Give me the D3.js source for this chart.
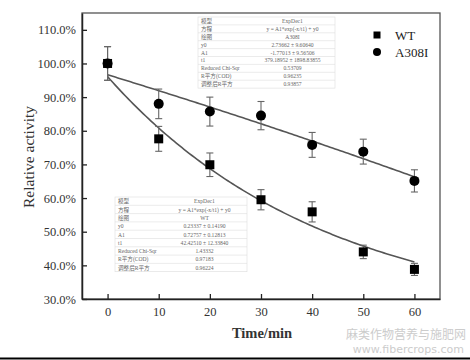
<!DOCTYPE html>
<html><head><meta charset="utf-8">
<script src="https://cdn.jsdelivr.net/npm/d3@7"></script>
<style>body{margin:0;background:#fff}svg{display:block}</style>
</head><body>
<svg id="c" width="470" height="360"></svg>
<script>
const times = [0, 10, 20, 30, 40, 50, 60];
const seriesNames = ["WT", "A308I"];
const wtValues = [1.000, 0.776, 0.699, 0.595, 0.559, 0.440, 0.388];
const wtErrors = [0.050, 0.037, 0.035, 0.030, 0.030, 0.020, 0.018];
const a308Values = [1.000, 0.880, 0.857, 0.845, 0.758, 0.738, 0.651];
const a308Errors = [0.050, 0.044, 0.043, 0.042, 0.037, 0.037, 0.033];
// fitted ExpDec1 parameters: y = A1*exp(-x/t1) + y0
const wtFit = {y0: 0.23337, A1: 0.72757, t1: 42.42510};
const a308Fit = {y0: 2.73662, A1: -1.77013, t1: -379.18952};
const yTicks = [0.3, 0.4, 0.5, 0.6, 0.7, 0.8, 0.9, 1.0, 1.1];
const xTicks = [0, 10, 20, 30, 40, 50, 60];
const tableLabels = ["模型", "方程", "绘图", "y0", "A1", "t1", "Reduced Chi-Sqr", "R平方(COD)", "调整后R平方"];
const a308Table = ["ExpDec1", "y = A1*exp(-x/t1) + y0", "A308I", "2.73662 ± 9.60640", "-1.77013 ± 9.56506", "379.18952 ± 1898.83855", "0.53709", "0.96235", "0.93857"];
const wtTable = ["ExpDec1", "y = A1*exp(-x/t1) + y0", "WT", "0.23337 ± 0.14190", "0.72757 ± 0.12813", "42.42510 ± 12.33840", "1.43332", "0.97183", "0.96224"];

const svg = d3.select("#c");
const x = d3.scaleLinear().domain([-5, 65]).range([82, 440]);
const y = d3.scaleLinear().domain([0.3, 1.15]).range([299, 13]);
const serif = "'Liberation Serif','Times New Roman',serif";
const tableFont = "'Liberation Serif','Noto Sans CJK SC',serif";

// frame
svg.append("rect").attr("x", 82).attr("y", 13).attr("width", 358).attr("height", 286)
  .attr("fill", "none").attr("stroke", "#555").attr("stroke-width", 1.3);

// axes
const yAxis = d3.axisLeft(y).tickValues(yTicks).tickFormat(d3.format(".1%")).tickSizeInner(-5).tickSizeOuter(0).tickPadding(6);
const gy = svg.append("g").attr("transform", "translate(82,0)").call(yAxis);
gy.select(".domain").attr("stroke", "#222").attr("stroke-width", 1.5);
gy.selectAll(".tick line").attr("stroke", "#222").attr("stroke-width", 1.3);
gy.selectAll("text").attr("font-family", serif).attr("font-size", 12.5).attr("fill", "#333");

const xAxis = d3.axisBottom(x).tickValues(xTicks).tickFormat(d3.format("d")).tickSizeInner(-5).tickSizeOuter(0).tickPadding(8);
const gx = svg.append("g").attr("transform", "translate(0,299)").call(xAxis);
gx.select(".domain").attr("stroke", "#222").attr("stroke-width", 1.5);
gx.selectAll(".tick line").attr("stroke", "#222").attr("stroke-width", 1.3);
gx.selectAll("text").attr("font-family", serif).attr("font-size", 12.5).attr("fill", "#333");

svg.append("text").attr("x", 262).attr("y", 338).attr("text-anchor", "middle")
  .attr("font-family", serif).attr("font-size", 14.5).attr("font-weight", "bold").attr("fill", "#333").text("Time/min");
svg.append("text").attr("transform", "translate(34,157) rotate(-90)").attr("text-anchor", "middle")
  .attr("font-family", serif).attr("font-size", 15.5).attr("fill", "#333").text("Relative activity");

// fit curves
const line = d3.line().x(d => x(d[0])).y(d => y(d[1]));
function fitPts(p) {
  return d3.range(0, 60.01, 0.5).map(t => [t, p.A1 * Math.exp(-t / p.t1) + p.y0]);
}
[wtFit, a308Fit].forEach(p => {
  svg.append("path").attr("d", line(fitPts(p))).attr("fill", "none").attr("stroke", "#555").attr("stroke-width", 1.6);
});

// error bars
function errBars(vals, errs) {
  const g = svg.append("g").attr("stroke", "#666").attr("stroke-width", 1.1);
  times.forEach((t, i) => {
    const cx = x(t), top = y(vals[i] + errs[i]), bot = y(vals[i] - errs[i]);
    g.append("line").attr("x1", cx).attr("x2", cx).attr("y1", top).attr("y2", bot);
    g.append("line").attr("x1", cx - 3.5).attr("x2", cx + 3.5).attr("y1", top).attr("y2", top);
    g.append("line").attr("x1", cx - 3.5).attr("x2", cx + 3.5).attr("y1", bot).attr("y2", bot);
  });
}
errBars(a308Values, a308Errors);
errBars(wtValues, wtErrors);

// markers
svg.append("g").selectAll("circle").data(times).join("circle")
  .attr("cx", d => x(d)).attr("cy", (d, i) => y(a308Values[i])).attr("r", 5).attr("fill", "#000");
svg.append("g").selectAll("rect").data(times).join("rect")
  .attr("x", d => x(d) - 4.5).attr("y", (d, i) => y(wtValues[i]) - 4.5).attr("width", 9).attr("height", 9).attr("fill", "#000");

// legend
svg.append("rect").attr("x", 373.5).attr("y", 31.5).attr("width", 7).attr("height", 7).attr("fill", "#000");
svg.append("circle").attr("cx", 377).attr("cy", 52).attr("r", 4).attr("fill", "#000");
svg.append("text").attr("x", 395).attr("y", 40).attr("font-family", serif).attr("font-size", 13).attr("fill", "#222").text(seriesNames[0]);
svg.append("text").attr("x", 395).attr("y", 57).attr("font-family", serif).attr("font-size", 13).attr("fill", "#222").text(seriesNames[1]);

// tables
function table(x0, y0, w, splitX, rowH, vals) {
  const g = svg.append("g");
  const h = rowH * tableLabels.length;
  g.append("rect").attr("x", x0).attr("y", y0).attr("width", w).attr("height", h).attr("fill", "#fff").attr("stroke", "#ddd").attr("stroke-width", 0.6);
  tableLabels.forEach((lab, i) => {
    const ry = y0 + i * rowH;
    if (i > 0) g.append("line").attr("x1", x0).attr("x2", x0 + w).attr("y1", ry).attr("y2", ry).attr("stroke", "#ddd").attr("stroke-width", 0.6);
    g.append("text").attr("x", x0 + 3).attr("y", ry + rowH - 2).attr("font-family", tableFont).attr("font-size", 5.6).attr("fill", "#666").text(lab);
    g.append("text").attr("x", splitX + (x0 + w - splitX) / 2).attr("y", ry + rowH - 2).attr("text-anchor", "middle")
      .attr("font-family", tableFont).attr("font-size", 5.6).attr("fill", "#666").text(vals[i]);
  });
}
table(198, 17, 137, 250, 7.9, a308Table);
table(115, 197, 132, 162, 8.3, wtTable);

// watermark and bottom rule
svg.append("text").attr("x", 466).attr("y", 339).attr("text-anchor", "end").attr("font-family", "'Noto Sans CJK SC',sans-serif")
  .attr("font-size", 12).attr("fill", "#ccc").text("麻类作物营养与施肥网");
svg.append("text").attr("x", 464).attr("y", 353).attr("text-anchor", "end").attr("font-family", "'DejaVu Sans',sans-serif")
  .attr("font-size", 11).attr("fill", "#ccc").text("www.fibercrops.com");
svg.append("line").attr("x1", 0).attr("x2", 470).attr("y1", 358.5).attr("y2", 358.5).attr("stroke", "#000").attr("stroke-width", 2);
</script>
</body></html>
